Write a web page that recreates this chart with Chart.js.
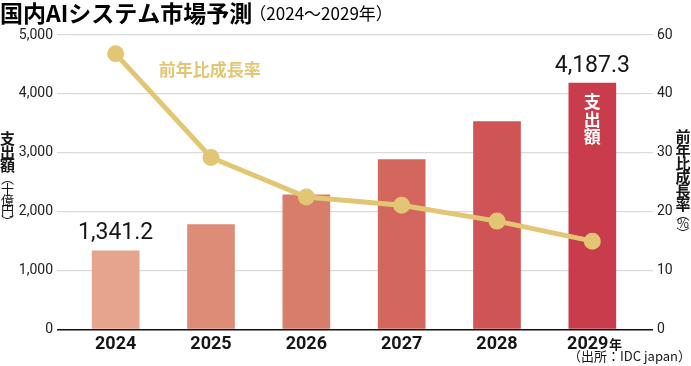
<!DOCTYPE html>
<html lang="ja">
<head>
<meta charset="utf-8">
<script src="https://cdn.jsdelivr.net/npm/chart.js@4.4.1/dist/chart.umd.min.js"></script>
<style>
  html, body { margin: 0; padding: 0; background: #fff; }
  #wrap { position: relative; width: 691px; height: 366px; }
</style>
</head>
<body>
<div id="wrap"><canvas id="chart"></canvas></div>
<script>
// ---- data ----
const years      = ['2024', '2025', '2026', '2027', '2028', '2029'];
const spending   = [1341.2, 1788, 2292, 2890, 3534, 4187.3];   // 支出額（十億円）
const growth     = [46.8, 29.2, 22.5, 21.1, 18.4, 15.0];       // 前年比成長率（%）
const leftTicks  = ['0', '1,000', '2,000', '3,000', '4,000', '5,000'];
const rightTicks = ['0', '10', '20', '30', '40', '60'];
const barColors  = ['#e5a48b', '#dd8c78', '#d87c6b', '#d3675e', '#ce5456', '#c83c4b'];
const labelIdx   = [0, 5];   // bars that get a value label

const NUM  = 'Roboto, "Noto Sans CJK JP", sans-serif';
const JP   = '"Noto Sans CJK JP", sans-serif';
const GOLD = '#e2c673';
const GRID = '#dadada';
const INK  = '#161616';

const fmt = v => v.toLocaleString('en-US', { minimumFractionDigits: 1, maximumFractionDigits: 1 });

// stacked (upright) vertical text
function vText(ctx, chars, x, y0, pitch, font, color) {
  ctx.font = font;
  ctx.fillStyle = color;
  ctx.textAlign = 'center';
  ctx.textBaseline = 'middle';
  chars.forEach((ch, i) => ctx.fillText(ch, x, y0 + i * pitch));
}

const textPlugin = {
  id: 'texts',
  afterDraw(chart) {
    const ctx = chart.ctx;
    const bars = chart.getDatasetMeta(1).data;
    const pts  = chart.getDatasetMeta(0).data;
    ctx.save();

    // title
    ctx.textAlign = 'left';
    ctx.textBaseline = 'middle';
    ctx.fillStyle = '#000';
    ctx.font = 'bold 23px ' + JP;
    const t1 = '国内AIシステム市場予測';
    ctx.fillText(t1, 0, 13);
    const w1 = ctx.measureText(t1).width;
    ctx.font = '17px ' + JP;
    ctx.fillText('（2024～2029年）', w1 - 3, 14);

    // value labels over first / last bar
    ctx.font = '23px ' + NUM;
    ctx.fillStyle = INK;
    ctx.textAlign = 'center';
    labelIdx.forEach(i => {
      const b = bars[i];
      ctx.fillText(fmt(spending[i]), b.x, b.y - 17);
    });

    // line label
    ctx.font = 'bold 17px ' + JP;
    ctx.fillStyle = GOLD;
    ctx.textAlign = 'left';
    ctx.fillText('前年比成長率', pts[0].x + 43, pts[0].y + 16);

    // series name inside last bar
    const last = bars[bars.length - 1];
    vText(ctx, ['支', '出', '額'], last.x, last.y + 19, 17.5, 'bold 17px ' + JP, '#fff');

    // 年 after the last x label
    const xs = chart.scales.x;
    const px = xs.getPixelForTick(years.length - 1);
    ctx.font = 'bold 18px ' + NUM;
    const wFull = ctx.measureText(years[years.length - 1] + '\u2002').width;
    const wNum  = ctx.measureText(years[years.length - 1]).width;
    ctx.textAlign = 'left';
    ctx.textBaseline = 'alphabetic';
    ctx.fillStyle = INK;
    ctx.font = 'bold 13px ' + JP;
    ctx.fillText('年', px - wFull / 2 + wNum + 0.5, 349);

    // source
    ctx.font = '13px ' + JP;
    ctx.textAlign = 'right';
    ctx.textBaseline = 'middle';
    ctx.fillStyle = INK;
    ctx.fillText('（出所：IDC japan）', 691, 356);

    // axis titles
    vText(ctx, ['支', '出', '額'], 7.5, 138, 13.8, 'bold 15px ' + JP, INK);
    vText(ctx, ['︵', '十', '億', '円', '︶'], 7.5, 178, 10.8, '13px ' + JP, INK);
    vText(ctx, ['前', '年', '比', '成', '長', '率'], 683, 136.5, 13.6, 'bold 15px ' + JP, INK);
    vText(ctx, ['︵', '%', '︶'], 683, 214, 9.5, '13px ' + JP, INK);

    ctx.restore();
  }
};

const zeroOr = (c, a, b) => (c.tick && c.tick.value === 0 ? a : b);

new Chart(document.getElementById('chart'), {
  data: {
    labels: years,
    datasets: [
      {
        type: 'line',
        label: '前年比成長率',
        data: growth,
        yAxisID: 'y1',
        borderColor: GOLD,
        backgroundColor: GOLD,
        borderWidth: 5,
        pointRadius: 6,
        pointHoverRadius: 6,
        tension: 0,
        order: 0
      },
      {
        type: 'bar',
        label: '支出額',
        data: spending,
        yAxisID: 'y',
        backgroundColor: barColors,
        categoryPercentage: 1,
        barPercentage: 0.5,
        order: 1
      }
    ]
  },
  options: {
    responsive: true,
    maintainAspectRatio: false,
    animation: false,
    layout: { padding: { top: 35, left: 0, right: 0, bottom: 0 } },
    plugins: { legend: { display: false }, tooltip: { enabled: false } },
    scales: {
      x: {
        grid: { display: false },
        border: { display: false },
        ticks: {
          font: { family: NUM, size: 18, weight: 'bold' },
          color: INK,
          padding: -4,
          maxRotation: 0,
          callback: (v, i) => (i === years.length - 1 ? years[i] + '\u2002' : years[i])
        },
        afterFit: s => { s.height = 36.5; }
      },
      y: {
        position: 'left',
        min: 0,
        max: 5000,
        ticks: {
          stepSize: 1000,
          callback: (v, i) => leftTicks[i],
          font: { family: NUM, size: 14 },
          color: '#222',
          padding: 4
        },
        grid: {
          color: c => zeroOr(c, '#111', GRID),
          lineWidth: c => zeroOr(c, 1.5, 1.2),
          tickLength: 11
        },
        border: { display: false },
        afterFit: s => { s.width = 68; }
      },
      y1: {
        position: 'right',
        min: 0,
        max: 50,
        ticks: {
          stepSize: 10,
          callback: (v, i) => rightTicks[i],
          font: { family: NUM, size: 14 },
          color: '#222',
          padding: 4
        },
        grid: {
          drawOnChartArea: false,
          color: c => zeroOr(c, '#111', GRID),
          lineWidth: c => zeroOr(c, 1.5, 1.2),
          tickLength: 13
        },
        border: { display: false },
        afterFit: s => { s.width = 51; }
      }
    }
  },
  plugins: [textPlugin]
});
</script>
</body>
</html>
